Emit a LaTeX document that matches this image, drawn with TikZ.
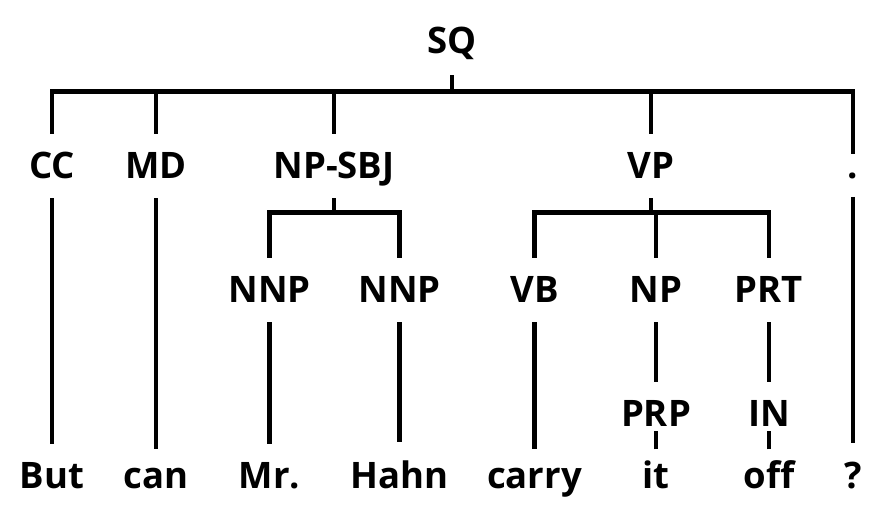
\documentclass[tikz,border=0pt]{standalone}
\usepackage{fontspec}
\setmainfont{Open Sans}
\begin{document}
\begin{tikzpicture}[x=1pt,y=-1pt,line width=4.9pt,
  lab/.style={anchor=base,inner xsep=0pt,inner ysep=16pt,font=\fontsize{36.5}{40}\selectfont\bfseries},
  cat/.style={lab,text height=26pt,text depth=2pt},
  tedge/.style={draw,line join=miter,line cap=butt}]
\useasboundingbox[fill=white] (0,0) rectangle (888,507);
% root
\node[cat,text depth=4pt] (sq) at (452,53) {SQ};
% row 1
\node[cat] (cc) at (52,178) {CC};
\node[cat] (md) at (156,178) {MD};
\node[cat] (npsbj) at (334,178) {NP-SBJ};
\node[cat] (vp) at (651,178) {VP};
\node[lab] (dot) at (853,178) {.};
% row 2
\node[cat] (nnpa) at (269.5,302) {NNP};
\node[cat] (nnpb) at (399.5,302) {NNP};
\node[cat] (vb) at (534.5,302) {VB};
\node[cat] (np) at (656,302) {NP};
\node[cat] (prt) at (769,302) {PRT};
% row 3
\node[cat] (prp) at (656,426) {PRP};
\node[cat] (in) at (769,426) {IN};
% leaves
\node[lab] (but) at (52,488) {But};
\node[lab] (can) at (156,488) {can};
\node[lab] (mr) at (269.5,488) {Mr.};
\node[lab] (hahn) at (399.5,488) {Hahn};
\node[lab] (carry) at (534.5,488) {carry};
\node[lab] (it) at (656,488) {it};
\node[lab] (off) at (769,488) {off};
\node[lab] (q) at (853,488) {?};
% branching edges
\foreach \c in {cc,md,npsbj,vp,dot}
  \draw[tedge] (sq.south) -- ++(0,16) -| (\c.north);
\foreach \c in {nnpa,nnpb}
  \draw[tedge] (npsbj.south) -- ++(0,14) -| (\c.north);
\foreach \c in {vb,np,prt}
  \draw[tedge] (vp.south) -- ++(0,14) -| (\c.north);
% unary edges
\draw[tedge] (cc.south) -- (but.north);
\draw[tedge] (md.south) -- (can.north);
\draw[tedge] (nnpa.south) -- (mr.north);
\draw[tedge] (nnpb.south) -- (hahn.north);
\draw[tedge] (vb.south) -- (carry.north);
\draw[tedge] (np.south) -- (prp.north);
\draw[tedge] (prt.south) -- (in.north);
\draw[tedge,shorten <=-3pt,shorten >=-11pt] (prp.south) -- (it.north);
\draw[tedge,shorten <=-3pt,shorten >=-11pt] (in.south) -- (off.north);
\draw[tedge] (dot.south) -- (q.north);
\end{tikzpicture}
\end{document}
